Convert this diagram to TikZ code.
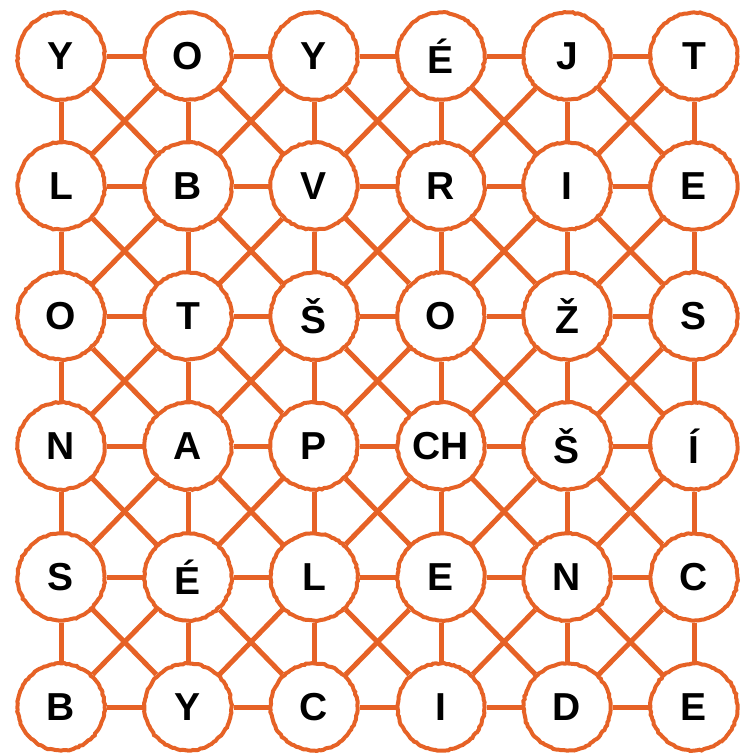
\documentclass[tikz,border=0pt]{standalone}
\usepackage{fontspec}
\setmainfont{Liberation Sans}
\usetikzlibrary{decorations.pathmorphing}
\definecolor{grorange}{RGB}{230,98,38}
\tikzset{
  letter/.style={circle, draw=grorange, line width=4pt, fill=white, minimum size=87pt, inner sep=0pt,
    font=\fontsize{39}{42}\selectfont\bfseries, text=black,
    decoration={random steps, segment length=2.5pt, amplitude=0.6pt}, decorate},
  link/.style={draw=grorange, line width=5pt}
}
\begin{document}
\begin{tikzpicture}[x=1pt,y=-1pt]
\useasboundingbox (0,0) rectangle (750,753);
\def\xs{{61,188,314,441,567,694}}
\def\ys{{56,186,316,446,577,707}}
\foreach \r/\rowtxt in {1/{Y,O,Y,É,J,T},2/{L,B,V,R,I,E},3/{O,T,Š,O,Ž,S},4/{N,A,P,CH,Š,Í},5/{S,É,L,E,N,C},6/{B,Y,C,I,D,E}}{
  \foreach \t [count=\c] in \rowtxt {
    \pgfmathsetmacro{\px}{\xs[\c-1]}
    \pgfmathsetmacro{\py}{\ys[\r-1]}
    \node[letter] (n-\r-\c) at (\px,\py) {\t};
  }
}
\foreach \r in {1,...,6}{
  \foreach \c in {1,...,5}{
    \pgfmathtruncatemacro{\cn}{\c+1}
    \draw[link] (n-\r-\c) -- (n-\r-\cn);
    \draw[link] (n-\c-\r) -- (n-\cn-\r);
  }
}
\foreach \r in {1,...,5}{
  \foreach \c in {1,...,5}{
    \pgfmathtruncatemacro{\cn}{\c+1}
    \pgfmathtruncatemacro{\rn}{\r+1}
    \draw[link] (n-\r-\c) -- (n-\rn-\cn);
    \draw[link] (n-\r-\cn) -- (n-\rn-\c);
  }
}
\end{tikzpicture}
\end{document}
